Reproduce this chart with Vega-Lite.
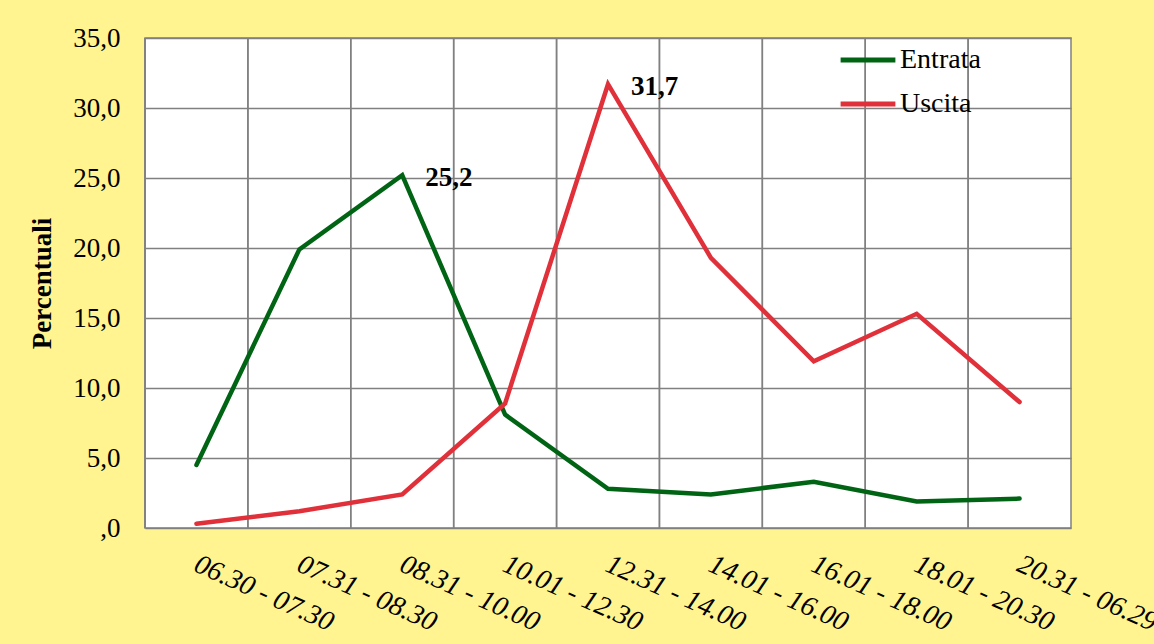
{
  "$schema": "https://vega.github.io/schema/vega-lite/v6.json",
  "autosize": "none",
  "width": 926,
  "height": 490,
  "padding": {"left": 145, "top": 38, "right": 83, "bottom": 116},
  "background": "#FFF48F",
  "config": {
    "locale": {
      "number": {"decimal": ",", "thousands": ".", "grouping": [3], "currency": ["€", ""]}
    },
    "font": "Times New Roman, Liberation Serif, serif",
    "view": {"fill": "#FFFFFF", "stroke": "#808080", "strokeWidth": 1.5}
  },
  "data": {
    "values": [
      {"fascia": "06.30 - 07.30", "serie": "Entrata", "valore": 4.5},
      {"fascia": "07.31 - 08.30", "serie": "Entrata", "valore": 19.9},
      {"fascia": "08.31 - 10.00", "serie": "Entrata", "valore": 25.2},
      {"fascia": "10.01 - 12.30", "serie": "Entrata", "valore": 8.1},
      {"fascia": "12.31 - 14.00", "serie": "Entrata", "valore": 2.8},
      {"fascia": "14.01 - 16.00", "serie": "Entrata", "valore": 2.4},
      {"fascia": "16.01 - 18.00", "serie": "Entrata", "valore": 3.3},
      {"fascia": "18.01 - 20.30", "serie": "Entrata", "valore": 1.9},
      {"fascia": "20.31 - 06.29", "serie": "Entrata", "valore": 2.1},
      {"fascia": "06.30 - 07.30", "serie": "Uscita", "valore": 0.3},
      {"fascia": "07.31 - 08.30", "serie": "Uscita", "valore": 1.2},
      {"fascia": "08.31 - 10.00", "serie": "Uscita", "valore": 2.4},
      {"fascia": "10.01 - 12.30", "serie": "Uscita", "valore": 8.9},
      {"fascia": "12.31 - 14.00", "serie": "Uscita", "valore": 31.7},
      {"fascia": "14.01 - 16.00", "serie": "Uscita", "valore": 19.3},
      {"fascia": "16.01 - 18.00", "serie": "Uscita", "valore": 11.9},
      {"fascia": "18.01 - 20.30", "serie": "Uscita", "valore": 15.3},
      {"fascia": "20.31 - 06.29", "serie": "Uscita", "valore": 9.0}
    ]
  },
  "encoding": {
    "x": {
      "field": "fascia",
      "type": "nominal",
      "sort": null,
      "scale": {"type": "band", "paddingInner": 0, "paddingOuter": 0},
      "axis": {
        "title": null,
        "domain": false,
        "ticks": false,
        "grid": false,
        "labelAngle": 24,
        "labelAlign": "left",
        "labelBaseline": "top",
        "labelPadding": 22,
        "labelOffset": 5,
        "labelFont": "Times New Roman, Liberation Serif, serif",
        "labelFontStyle": "italic",
        "labelFontSize": 28,
        "labelColor": "#000000"
      }
    }
  },
  "layer": [
    {
      "mark": {"type": "rule", "color": "#808080", "strokeWidth": 1.5},
      "encoding": {
        "x": {"field": "fascia", "type": "nominal", "sort": null, "bandPosition": 0}
      }
    },
    {
      "mark": {"type": "line", "strokeWidth": 4.5, "strokeCap": "round", "strokeJoin": "miter"},
      "encoding": {
        "y": {
          "field": "valore",
          "type": "quantitative",
          "scale": {"domain": [0, 35], "nice": false},
          "axis": {
            "title": "Percentuali",
            "titleFont": "Times New Roman, Liberation Serif, serif",
            "titleFontSize": 27,
            "titleFontWeight": "bold",
            "titleColor": "#000000",
            "titlePadding": 16,
            "values": [0, 5, 10, 15, 20, 25, 30, 35],
            "format": ".1f",
            "labelExpr": "datum.value === 0 ? ',0' : datum.label",
            "labelFont": "Times New Roman, Liberation Serif, serif",
            "labelFontSize": 27,
            "labelColor": "#000000",
            "labelPadding": 25,
            "domain": false,
            "ticks": false,
            "gridColor": "#808080",
            "gridWidth": 1.5
          }
        },
        "color": {
          "field": "serie",
          "type": "nominal",
          "scale": {"domain": ["Entrata", "Uscita"], "range": ["#006414", "#E0303A"]},
          "legend": {
            "title": null,
            "orient": "none",
            "legendX": 693,
            "legendY": -8,
            "symbolType": "stroke",
            "symbolSize": 3000,
            "symbolStrokeWidth": 5,
            "labelOffset": 2,
            "labelFont": "Times New Roman, Liberation Serif, serif",
            "labelFontSize": 28,
            "labelColor": "#000000",
            "rowPadding": -13
          }
        }
      }
    },
    {
      "transform": [
        {"joinaggregate": [{"op": "max", "field": "valore", "as": "massimo"}], "groupby": ["serie"]},
        {"filter": "datum.valore === datum.massimo"}
      ],
      "mark": {
        "type": "text",
        "align": "left",
        "baseline": "middle",
        "dx": 23,
        "dy": 3,
        "font": "Times New Roman, Liberation Serif, serif",
        "fontSize": 27,
        "fontWeight": "bold",
        "color": "#000000"
      },
      "encoding": {
        "y": {"field": "valore", "type": "quantitative"},
        "text": {"field": "valore", "type": "quantitative", "format": ".1f"}
      }
    }
  ]
}
